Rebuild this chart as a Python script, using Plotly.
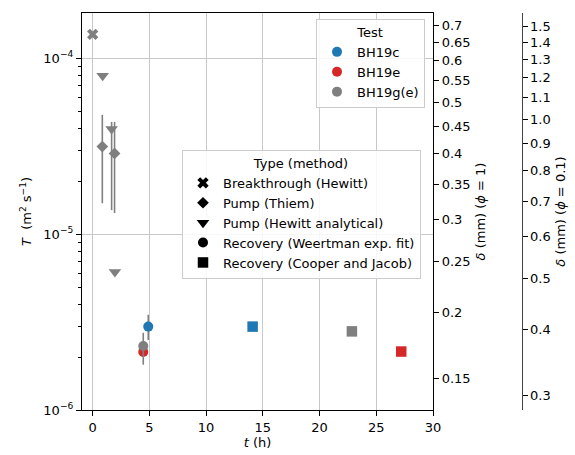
import numpy as np
import plotly.graph_objects as go

# ---------------- data ----------------
t_hours = [0.0, 0.88, 0.85, 1.67, 1.93, 1.96, 4.90, 4.46, 4.46, 14.1, 22.85, 27.2]
T_vals = [1.37e-4, 7.96e-5, 3.15e-5, 3.96e-5, 2.88e-5, 6.1e-6,
          2.98e-6, 2.31e-6, 2.14e-6, 2.98e-6, 2.80e-6, 2.15e-6]
T_lower = [None, None, 1.50e-5, 1.37e-5, 1.32e-5, None,
           2.50e-6, 1.81e-6, None, None, None, None]
T_upper = [None, None, 4.77e-5, 4.35e-5, 4.35e-5, None,
           3.48e-6, 2.75e-6, None, None, None, None]
tests = ["BH19g(e)", "BH19g(e)", "BH19g(e)", "BH19g(e)", "BH19g(e)", "BH19g(e)",
         "BH19c", "BH19g(e)", "BH19e", "BH19c", "BH19g(e)", "BH19e"]
methods = ["Breakthrough (Hewitt)", "Pump (Hewitt analytical)", "Pump (Thiem)",
           "Pump (Hewitt analytical)", "Pump (Thiem)", "Pump (Hewitt analytical)",
           "Recovery (Weertman exp. fit)", "Recovery (Weertman exp. fit)",
           "Recovery (Weertman exp. fit)", "Recovery (Cooper and Jacob)",
           "Recovery (Cooper and Jacob)", "Recovery (Cooper and Jacob)"]

test_names = ["BH19c", "BH19e", "BH19g(e)"]
test_colors = ["#1f77b4", "#d62728", "#7f7f7f"]
method_names = ["Breakthrough (Hewitt)", "Pump (Thiem)", "Pump (Hewitt analytical)",
                "Recovery (Weertman exp. fit)", "Recovery (Cooper and Jacob)"]
method_symbols = ["x", "diamond", "triangle-down", "circle", "square"]
method_sizes = [10, 9, 11, 10, 10.5]

delta1_ticks = [0.15, 0.2, 0.25, 0.3, 0.35, 0.4, 0.45, 0.5, 0.55, 0.6, 0.65, 0.7]
delta1_labels = ["0.15", "0.2", "0.25", "0.3", "0.35", "0.4", "0.45", "0.5", "0.55", "0.6", "0.65", "0.7"]
delta2_ticks = [0.3, 0.4, 0.5, 0.6, 0.7, 0.8, 0.9, 1.0, 1.1, 1.2, 1.3, 1.4, 1.5]
delta2_labels = ["0.3", "0.4", "0.5", "0.6", "0.7", "0.8", "0.9", "1.0", "1.1", "1.2", "1.3", "1.4", "1.5"]

C_cubic = 4.5e-4  # T = C * phi * delta^3  (delta in mm)
logT_range = [-6.0, -3.742]
x_range = [-0.94, 30]

FONT = "DejaVu Sans"
fig = go.Figure()

# data traces
for tn, tc in zip(test_names, test_colors):
    for mn, ms, msz in zip(method_names, method_symbols, method_sizes):
        idx = [i for i in range(len(t_hours)) if tests[i] == tn and methods[i] == mn]
        if not idx:
            continue
        xs = [t_hours[i] for i in idx]
        ys = [T_vals[i] for i in idx]
        ep = [(T_upper[i] - T_vals[i]) if T_upper[i] is not None else 0 for i in idx]
        em = [(T_vals[i] - T_lower[i]) if T_lower[i] is not None else 0 for i in idx]
        has_err = any(v > 0 for v in ep + em)
        fig.add_trace(go.Scatter(
            x=xs, y=ys, mode="markers", showlegend=False,
            marker=dict(symbol=ms, size=msz, color=tc, line=dict(width=0)),
            error_y=dict(type="data", symmetric=False, array=ep, arrayminus=em,
                         visible=has_err, color="#808080", thickness=1.6, width=0),
        ))

# invisible traces to carry the delta axes
d1 = [(T / C_cubic) ** (1 / 3) for T in T_vals]
d2 = [(T / (0.1 * C_cubic)) ** (1 / 3) for T in T_vals]
fig.add_trace(go.Scatter(x=t_hours, y=d1, yaxis="y2", mode="markers",
                         marker=dict(opacity=0), showlegend=False, hoverinfo="skip"))
fig.add_trace(go.Scatter(x=t_hours, y=d2, yaxis="y3", mode="markers",
                         marker=dict(opacity=0), showlegend=False, hoverinfo="skip"))

# legend proxies
for tn, tc in zip(test_names, test_colors):
    fig.add_trace(go.Scatter(x=[None], y=[None], mode="markers", name=tn,
                             marker=dict(symbol="circle", size=10, color=tc),
                             legend="legend"))
for mn, ms, msz in zip(method_names, method_symbols, method_sizes):
    fig.add_trace(go.Scatter(x=[None], y=[None], mode="markers", name=mn,
                             marker=dict(symbol=ms, size=msz, color="black"),
                             legend="legend2"))

L, R, T_, B = 82, 50, 13, 45
W, H = 575, 455
pw = W - L - R
ph = H - T_ - B
x_end = (433 - L) / pw

logC1 = np.log10(C_cubic)
logC2 = np.log10(0.1 * C_cubic)
y2_range = [(logT_range[0] - logC1) / 3, (logT_range[1] - logC1) / 3]
y3_range = [(logT_range[0] - logC2) / 3, (logT_range[1] - logC2) / 3]

minor_vals = [m * 10.0 ** e for e in (-6, -5) for m in range(2, 10)]

axis_font = dict(family=FONT, size=13, color="black")

fig.update_layout(
    width=W, height=H,
    margin=dict(l=L, r=R, t=T_, b=B, autoexpand=False),
    paper_bgcolor="white", plot_bgcolor="white",
    font=dict(family=FONT, size=13, color="black"),
    xaxis=dict(
        domain=[0, x_end], range=x_range, tickvals=[0, 5, 10, 15, 20, 25, 30],
        ticks="outside", ticklen=5, tickwidth=1, tickcolor="black",
        showline=True, linecolor="black", linewidth=1.2, mirror=True,
        showgrid=True, gridcolor="#c8c8c8", gridwidth=1, zeroline=False,
        tickfont=axis_font, automargin=False,
        title=dict(text="<i>t</i> (h)", font=axis_font, standoff=4),
    ),
    yaxis=dict(
        type="log", range=logT_range,
        tickvals=[1e-6, 1e-5, 1e-4],
        ticktext=["10<sup>−6</sup>", "10<sup>−5</sup>", "10<sup>−4</sup>"],
        ticks="outside", ticklen=5, tickwidth=1, tickcolor="black",
        minor=dict(tickvals=minor_vals, ticks="outside", ticklen=2.5,
                   tickcolor="black", showgrid=False),
        showline=True, linecolor="black", linewidth=1.2, mirror=True,
        showgrid=True, gridcolor="#c8c8c8", gridwidth=1, zeroline=False,
        tickfont=axis_font, automargin=False,
        title=dict(text="<i>T</i>  (m<sup>2</sup> s<sup>−1</sup>)", font=axis_font, standoff=8),
    ),
    yaxis2=dict(
        type="log", range=y2_range, overlaying="y", side="right", anchor="x",
        tickvals=delta1_ticks, ticktext=delta1_labels,
        ticks="outside", ticklen=5, tickwidth=1, tickcolor="black",
        showline=True, linecolor="black", linewidth=1.2,
        showgrid=False, zeroline=False, tickfont=axis_font, automargin=False,
        title=dict(text="<i>δ</i> (mm) (<i>ϕ</i> = 1)", font=axis_font, standoff=6),
    ),
    yaxis3=dict(
        type="log", range=y3_range, overlaying="y", side="right", anchor="free",
        position=(521.5 - L) / pw,
        tickvals=delta2_ticks, ticktext=delta2_labels,
        ticks="outside", ticklen=5, tickwidth=1, tickcolor="black",
        showline=True, linecolor="#444444", linewidth=1,
        showgrid=False, zeroline=False, tickfont=axis_font, automargin=False,
        title=dict(text="<i>δ</i> (mm) (<i>ϕ</i> = 0.1)", font=axis_font, standoff=6),
    ),
    legend=dict(
        title=dict(text="Test", side="top center", font=dict(family=FONT, size=13)),
        x=(316 - L) / pw, y=1 - (19 - T_) / ph, xanchor="left", yanchor="top",
        bgcolor="rgba(255,255,255,0.85)", bordercolor="#cccccc", borderwidth=1,
        font=dict(family=FONT, size=13), itemwidth=30, tracegroupgap=0,
    ),
    legend2=dict(
        title=dict(text="Type (method)", side="top center", font=dict(family=FONT, size=13)),
        x=(182 - L) / pw, y=1 - (150 - T_) / ph, xanchor="left", yanchor="top",
        bgcolor="rgba(255,255,255,0.85)", bordercolor="#cccccc", borderwidth=1,
        font=dict(family=FONT, size=13), itemwidth=30, tracegroupgap=0,
    ),
)

fig.write_html("out.html")
